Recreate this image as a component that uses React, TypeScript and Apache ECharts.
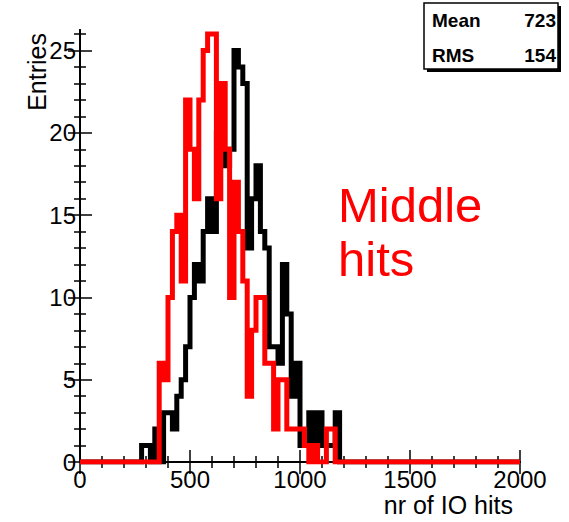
import React, { useEffect, useRef } from "react";
import * as echarts from "echarts";

// ---- data ----
const X_MIN = 0;
const X_MAX = 2000;
const BIN_WIDTH = 20;
const Y_MAX = 26.25;
const xMajorTicks = [0, 500, 1000, 1500, 2000];
const xMinorTicks = [100, 200, 300, 400, 600, 700, 800, 900, 1100, 1200, 1300, 1400, 1600, 1700, 1800, 1900];
const yMajorTicks = [0, 5, 10, 15, 20, 25];
const yMinorTicks = [1, 2, 3, 4, 6, 7, 8, 9, 11, 12, 13, 14, 16, 17, 18, 19, 21, 22, 23, 24, 26];

// black histogram: first bin low edge and counts per 20-wide bin
const blackFirstBin = 280;
const blackCounts = [
  1, 1, 0, 2, 0, 3, 3, 2, 4, 5, 7, 10, 12, 11, 14, 16, 14, 20, 19, 18, 19, 25, 24, 23, 13,
  16, 18, 14, 13, 7, 7, 6, 12, 9, 4, 6, 1, 1, 3, 1, 3, 1, 1, 1, 3,
];
// red histogram
const redFirstBin = 360;
const redCounts = [
  6, 5, 10, 14, 15, 11, 22, 19, 16, 22, 25, 26, 26, 16, 23, 19, 10, 17, 14, 11, 4, 8, 10, 10,
  6, 6, 2, 5, 5, 2, 2, 2, 2, 1, 0, 1, 0, 0, 2, 2,
];

const statsLabels = ["Mean", "RMS"];
const statsValues = ["723", "154"];
const annotationLines = ["Middle", "hits"];
const xTitle = "nr of IO hits";
const yTitle = "Entries";

const FONT = "'Liberation Sans', Arial, Helvetica, sans-serif";

function histData(first: number, counts: number[]) {
  const nBins = (X_MAX - X_MIN) / BIN_WIDTH;
  const pts: number[][] = [];
  for (let k = 0; k < nBins; k++) {
    const lo = X_MIN + k * BIN_WIDTH;
    const idx = Math.round((lo - first) / BIN_WIDTH);
    const v = idx >= 0 && idx < counts.length ? counts[idx] : 0;
    pts.push([lo, v]);
  }
  pts.push([X_MAX, pts[pts.length - 1][1]]);
  return pts;
}

export default function App() {
  const ref = useRef<HTMLDivElement>(null);
  useEffect(() => {
    if (!ref.current) return;
    const chart = echarts.init(ref.current, undefined, { renderer: "svg" });
    const tickStyle = { color: "#000", width: 1.5 };
    const lineStyle = { color: "#000", width: 2 };
    const fmt = (v: number) => String(v);
    const baseX = { type: "value", min: X_MIN, max: X_MAX, splitLine: { show: false } };
    const baseY = { type: "value", min: 0, max: Y_MAX, splitLine: { show: false } };
    chart.setOption({
      animation: false,
      grid: { left: 80, right: 49, top: 30, bottom: 60, containLabel: false },
      xAxis: [
        {
          ...baseX,
          position: "bottom",
          axisLine: { show: true, lineStyle },
          axisTick: { show: true, inside: true, length: 12, lineStyle: tickStyle, customValues: xMajorTicks },
          axisLabel: { show: true, customValues: xMajorTicks, formatter: fmt, color: "#000", fontSize: 24, fontFamily: FONT, margin: 5 },
        },
        {
          ...baseX,
          position: "bottom",
          axisLine: { show: false },
          axisTick: { show: true, inside: true, length: 6, lineStyle: tickStyle, customValues: xMinorTicks },
          axisLabel: { show: false },
        },
        {
          ...baseX,
          position: "top",
          axisLine: { show: true, lineStyle },
          axisTick: { show: true, inside: true, length: 12, lineStyle: tickStyle, customValues: xMajorTicks },
          axisLabel: { show: false },
        },
        {
          ...baseX,
          position: "top",
          axisLine: { show: false },
          axisTick: { show: true, inside: true, length: 6, lineStyle: tickStyle, customValues: xMinorTicks },
          axisLabel: { show: false },
        },
      ],
      yAxis: [
        {
          ...baseY,
          position: "left",
          axisLine: { show: true, lineStyle },
          axisTick: { show: true, inside: true, length: 12, lineStyle: tickStyle, customValues: yMajorTicks },
          axisLabel: { show: true, customValues: yMajorTicks, formatter: fmt, color: "#000", fontSize: 24, fontFamily: FONT, margin: 4 },
        },
        {
          ...baseY,
          position: "left",
          axisLine: { show: false },
          axisTick: { show: true, inside: true, length: 6, lineStyle: tickStyle, customValues: yMinorTicks },
          axisLabel: { show: false },
        },
        {
          ...baseY,
          position: "right",
          axisLine: { show: true, lineStyle },
          axisTick: { show: true, inside: true, length: 12, lineStyle: tickStyle, customValues: yMajorTicks },
          axisLabel: { show: false },
        },
        {
          ...baseY,
          position: "right",
          axisLine: { show: false },
          axisTick: { show: true, inside: true, length: 6, lineStyle: tickStyle, customValues: yMinorTicks },
          axisLabel: { show: false },
        },
      ],
      series: [
        {
          type: "line",
          name: "black",
          xAxisIndex: 0,
          yAxisIndex: 0,
          step: "end",
          symbol: "none",
          data: histData(blackFirstBin, blackCounts),
          lineStyle: { color: "#000", width: 5, join: "miter" },
          z: 2,
        },
        {
          type: "line",
          name: "red",
          xAxisIndex: 0,
          yAxisIndex: 0,
          step: "end",
          symbol: "none",
          data: histData(redFirstBin, redCounts),
          lineStyle: { color: "#ff0000", width: 5, join: "miter" },
          z: 3,
        },
      ],
      graphic: [
        { type: "rect", z: 100, shape: { x: 427, y: 6, width: 134, height: 66 }, style: { fill: "#000" } },
        { type: "rect", z: 101, shape: { x: 424, y: 3, width: 134, height: 66 }, style: { fill: "#fff", stroke: "#000", lineWidth: 1.5 } },
        ...statsLabels.map((t, i) => ({
          type: "text", z: 102, x: 432, y: 20 + i * 35,
          style: { text: t, fill: "#000", font: `bold 19px ${FONT}`, textAlign: "left", textVerticalAlign: "middle" },
        })),
        ...statsValues.map((t, i) => ({
          type: "text", z: 102, x: 556, y: 20 + i * 35,
          style: { text: t, fill: "#000", font: `bold 19px ${FONT}`, textAlign: "right", textVerticalAlign: "middle" },
        })),
        ...annotationLines.map((t, i) => ({
          type: "text", z: 102, x: 338, y: 229 + i * 54,
          style: { text: t, fill: "#ff0000", font: `49px ${FONT}`, textAlign: "left", textVerticalAlign: "bottom" },
        })),
        {
          type: "text", z: 102, x: 513, y: 505,
          style: { text: xTitle, fill: "#000", font: `25px ${FONT}`, textAlign: "right", textVerticalAlign: "middle" },
        },
        {
          type: "text", z: 102, x: 37, y: 33, rotation: Math.PI / 2,
          style: { text: yTitle, fill: "#000", font: `25px ${FONT}`, textAlign: "right", textVerticalAlign: "middle" },
        },
      ],
    });
    return () => chart.dispose();
  }, []);
  return <div ref={ref} style={{ position: "fixed", left: 0, top: 0, width: 569, height: 522, background: "#fff" }} />;
}
